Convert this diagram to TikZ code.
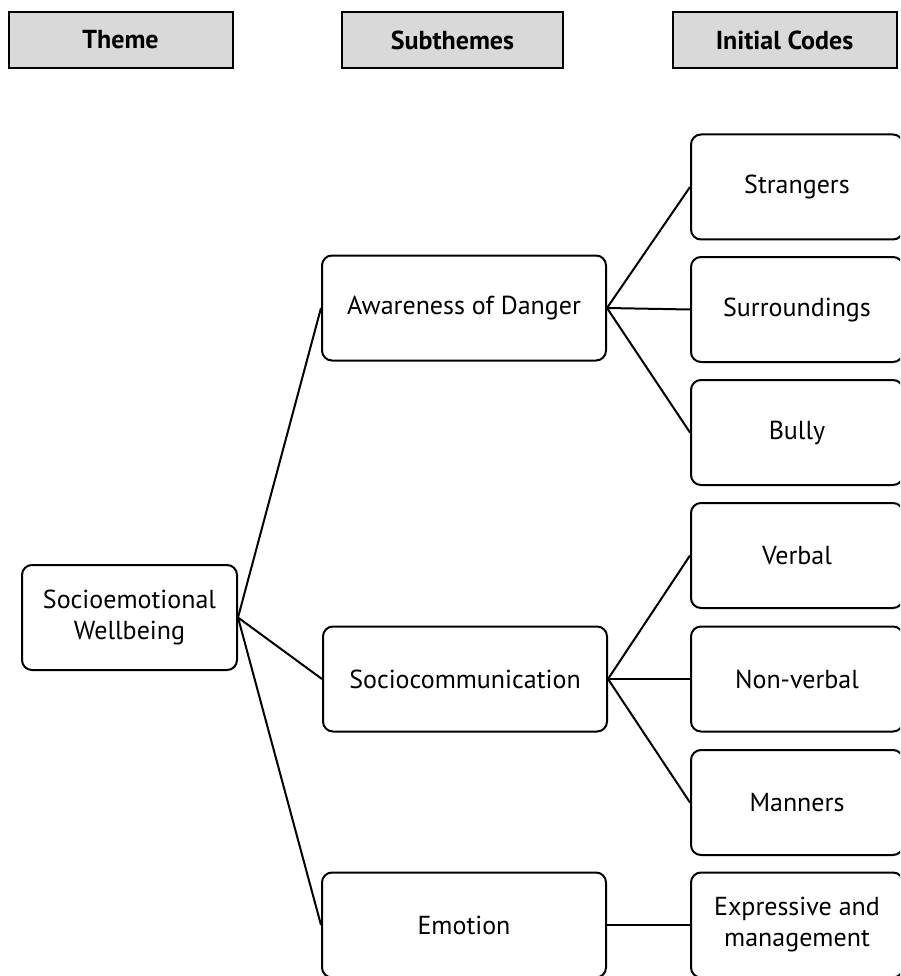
\documentclass[tikz,border=0pt]{standalone}
\usepackage{fontspec}
\setmainfont{PT Sans}
\begin{document}
\begin{tikzpicture}[x=1pt,y=-1pt,
  headbox/.style={draw, fill=black!15, line width=2pt, minimum width=224pt, minimum height=56pt, font=\fontsize{26}{30}\selectfont\bfseries},
  codebox/.style={draw, rounded corners=10pt, line width=2pt, align=center, minimum height=105pt, font=\fontsize{26}{31}\selectfont},
  link/.style={line width=2pt}]
  %%%%% START %%%%%
  \clip (0,0) rectangle (900,976);

  % column heads
  \node[headbox] (hTheme) at (120.5, 40) {Theme};
  \node[headbox, minimum width=221pt] (hSub) at (452.5, 40) {Subthemes};
  \node[headbox] (hCodes) at (784.5, 40) {Initial Codes};

  % theme
  \node[codebox, minimum width=215pt] (wellbeing) at (129.5, 617.5) {Socioemotional\\Wellbeing};

  % subthemes
  \node[codebox, minimum width=284pt] (danger) at (464, 308) {Awareness of Danger};
  \node[codebox, minimum width=284pt] (comm) at (465, 679) {Sociocommunication};
  \node[codebox, minimum width=284pt] (emotion) at (464, 925) {Emotion};

  % initial codes
  \node[codebox, minimum width=212pt] (strangers) at (797, 187) {Strangers};
  \node[codebox, minimum width=212pt] (surround) at (797, 309.5) {Surroundings};
  \node[codebox, minimum width=212pt] (bully) at (797, 432.5) {Bully};
  \node[codebox, minimum width=212pt] (verbal) at (797, 555.5) {Verbal};
  \node[codebox, minimum width=212pt] (nonverbal) at (797, 679) {Non-verbal};
  \node[codebox, minimum width=212pt] (manners) at (797, 802.5) {Manners};
  \node[codebox, minimum width=212pt] (express) at (797, 925) {Expressive and\\management};

  % links
  \draw[link] (wellbeing.east) -- (danger.west);
  \draw[link] (wellbeing.east) -- (comm.west);
  \draw[link] (wellbeing.east) -- (emotion.west);

  \draw[link] (danger.east) -- (strangers.west);
  \draw[link] (danger.east) -- (surround.west);
  \draw[link] (danger.east) -- (bully.west);

  \draw[link] (comm.east) -- (verbal.west);
  \draw[link] (comm.east) -- (nonverbal.west);
  \draw[link] (comm.east) -- (manners.west);

  \draw[link] (emotion.east) -- (express.west);
  %%%%% END %%%%%
\end{tikzpicture}
\end{document}
